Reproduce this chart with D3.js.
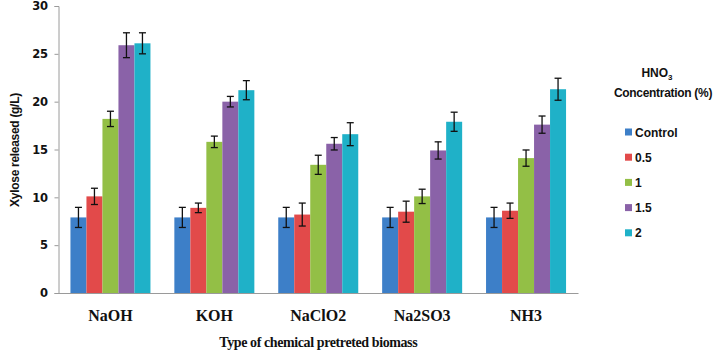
<!DOCTYPE html>
<html>
<head>
<meta charset="utf-8">
<script src="https://cdn.jsdelivr.net/npm/d3@7"></script>
<style>
  body { margin: 0; background: #fff; }
  svg { display: block; }
</style>
</head>
<body>
<div id="chart"></div>
<script>
// chemical pretreatments on the x axis
var categories = ["NaOH", "KOH", "NaClO2", "Na2SO3", "NH3"];
// HNO3 concentration series
var seriesNames = ["Control", "0.5", "1", "1.5", "2"];
var seriesColors = ["#3d7fc8", "#e24a4a", "#93bf46", "#8a62a8", "#1fb1c8"];

// xylose released (g/L), one array per series, in category order
var control = [7.9, 7.9, 7.9, 7.9, 7.9];
var conc05  = [10.1, 8.9, 8.2, 8.5, 8.6];
var conc1   = [18.2, 15.8, 13.4, 10.1, 14.1];
var conc15  = [25.9, 20.0, 15.6, 14.9, 17.6];
var conc2   = [26.1, 21.2, 16.6, 17.9, 21.3];

// error bar half-widths
var errControl = [1.05, 1.05, 1.05, 1.05, 1.05];
var err05      = [0.85, 0.5, 1.2, 1.1, 0.8];
var err1       = [0.8, 0.6, 1.0, 0.75, 0.85];
var err15      = [1.3, 0.55, 0.65, 0.9, 0.9];
var err2       = [1.1, 1.0, 1.2, 1.0, 1.15];

var yTicks = [0, 5, 10, 15, 20, 25, 30];

var values = [control, conc05, conc1, conc15, conc2];
var errors = [errControl, err05, err1, err15, err2];

var rows = [];
categories.forEach(function(c, i) {
    seriesNames.forEach(function(s, j) {
        rows.push({cat: c, series: s, value: values[j][i], err: errors[j][i], color: seriesColors[j]});
    });
});

var width = 726, height = 354;
var plotLeft = 58.5, plotRight = 578, plotTop = 6, plotBottom = 293;

var svg = d3.select("#chart").append("svg")
    .attr("width", width)
    .attr("height", height);

var xScale = d3.scaleBand()
    .domain(categories)
    .range([plotLeft, plotRight])
    .paddingInner(0.23)
    .paddingOuter(0.115);

var xSub = d3.scaleBand()
    .domain(seriesNames)
    .range([0, xScale.bandwidth()]);

var yScale = d3.scaleLinear()
    .domain([0, 30])
    .range([plotBottom, plotTop]);

// axis-y
var yAxis = svg.append("g")
    .attr("transform", "translate(" + plotLeft + ",0)")
    .call(d3.axisLeft(yScale).tickValues(yTicks).tickSize(4).tickPadding(7));
yAxis.select(".domain").attr("stroke", "#9a9a9a");
yAxis.selectAll(".tick line").attr("stroke", "#9a9a9a");
yAxis.selectAll("text")
    .attr("font-family", "DejaVu Sans")
    .attr("font-weight", "bold")
    .attr("font-size", "11.5px")
    .attr("letter-spacing", "-0.4px")
    .attr("fill", "#111");

// bars
svg.selectAll("rect.bar")
    .data(rows)
    .enter().append("rect")
    .attr("class", "bar")
    .attr("x", function(d) { return xScale(d.cat) + xSub(d.series); })
    .attr("y", function(d) { return yScale(d.value); })
    .attr("width", xSub.bandwidth())
    .attr("height", function(d) { return yScale(0) - yScale(d.value); })
    .attr("fill", function(d) { return d.color; });

// error bars
var eb = svg.selectAll("g.err")
    .data(rows)
    .enter().append("g")
    .attr("class", "err")
    .attr("stroke", "#111")
    .attr("stroke-width", 1.3);
eb.append("line")
    .attr("x1", function(d) { return xScale(d.cat) + xSub(d.series) + xSub.bandwidth() / 2; })
    .attr("x2", function(d) { return xScale(d.cat) + xSub(d.series) + xSub.bandwidth() / 2; })
    .attr("y1", function(d) { return yScale(d.value + d.err); })
    .attr("y2", function(d) { return yScale(d.value - d.err); });
eb.selectAll("line.cap")
    .data(function(d) { return [[d, d.value + d.err], [d, d.value - d.err]]; })
    .enter().append("line")
    .attr("class", "cap")
    .attr("x1", function(p) { return xScale(p[0].cat) + xSub(p[0].series) + xSub.bandwidth() / 2 - 3.5; })
    .attr("x2", function(p) { return xScale(p[0].cat) + xSub(p[0].series) + xSub.bandwidth() / 2 + 3.5; })
    .attr("y1", function(p) { return yScale(p[1]); })
    .attr("y2", function(p) { return yScale(p[1]); });

// axis-x
var xAxis = svg.append("g")
    .attr("transform", "translate(0," + plotBottom + ")")
    .call(d3.axisBottom(xScale).tickSize(0).tickPadding(17));
xAxis.select(".domain").attr("stroke", "#9a9a9a").attr("stroke-width", 1.2);
xAxis.selectAll("text")
    .attr("font-family", "Liberation Serif")
    .attr("font-weight", "bold")
    .attr("font-size", "16px")
    .attr("fill", "#111");

// axis titles
svg.append("text")
    .attr("x", (plotLeft + plotRight) / 2)
    .attr("y", 347)
    .attr("text-anchor", "middle")
    .attr("font-family", "Liberation Serif")
    .attr("font-weight", "bold")
    .attr("font-size", "14px")
    .attr("letter-spacing", "-0.4px")
    .attr("fill", "#111")
    .text("Type of chemical pretreted  biomass");

svg.append("text")
    .attr("transform", "translate(19," + 150 + ") rotate(-90)")
    .attr("text-anchor", "middle")
    .attr("font-family", "Liberation Sans")
    .attr("font-weight", "bold")
    .attr("font-size", "12px")
    .attr("letter-spacing", "-0.3px")
    .attr("fill", "#111")
    .text("Xylose released (g/L)");

// legend
var legTitle = svg.append("text")
    .attr("x", 657)
    .attr("y", 77)
    .attr("text-anchor", "middle")
    .attr("font-family", "Liberation Sans")
    .attr("font-weight", "bold")
    .attr("font-size", "12px")
    .attr("fill", "#111");
legTitle.append("tspan").text("HNO");
legTitle.append("tspan").attr("font-size", "8px").attr("dy", 3).text("3");

svg.append("text")
    .attr("x", 663)
    .attr("y", 97)
    .attr("text-anchor", "middle")
    .attr("font-family", "Liberation Sans")
    .attr("font-weight", "bold")
    .attr("font-size", "12px")
    .attr("letter-spacing", "-0.3px")
    .attr("fill", "#111")
    .text("Concentration (%)");

var legend = svg.selectAll("g.leg")
    .data(seriesNames)
    .enter().append("g")
    .attr("class", "leg")
    .attr("transform", function(d, i) { return "translate(625," + (132 + i * 25.2) + ")"; });
legend.append("rect")
    .attr("x", 0)
    .attr("y", -3.5)
    .attr("width", 7)
    .attr("height", 7)
    .attr("fill", function(d, i) { return seriesColors[i]; });
legend.append("text")
    .attr("x", 10)
    .attr("y", 4.5)
    .attr("font-family", "Liberation Sans")
    .attr("font-weight", "bold")
    .attr("font-size", "12px")
    .attr("fill", "#111")
    .text(function(d) { return d; });
</script>
</body>
</html>
